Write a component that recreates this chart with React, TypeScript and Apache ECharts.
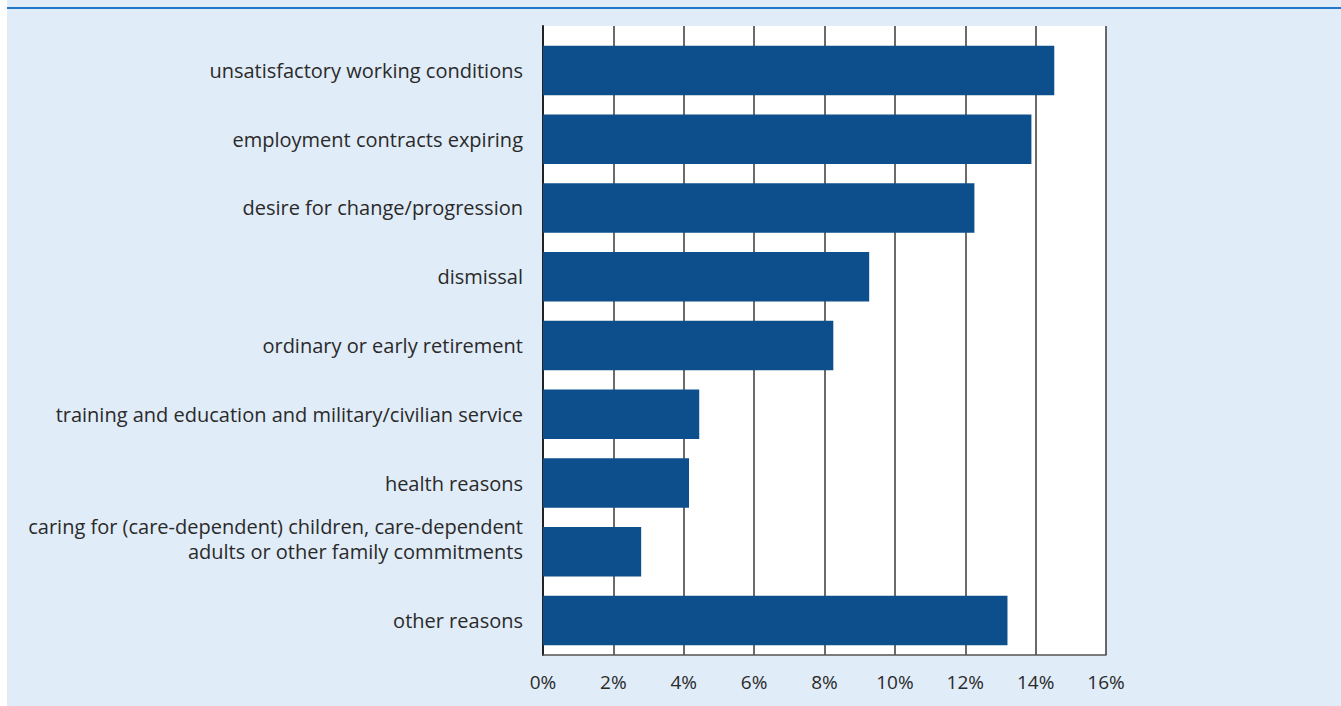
import React, { useEffect, useRef } from "react";
import * as echarts from "echarts";

const categories: string[] = [
  "unsatisfactory working conditions",
  "employment contracts expiring",
  "desire for change/progression",
  "dismissal",
  "ordinary or early retirement",
  "training and education and military/civilian service",
  "health reasons",
  "caring for (care-dependent) children, care-dependent\nadults or other family commitments\n ",
  "other reasons",
];

const values: number[] = [14.53, 13.88, 12.26, 9.27, 8.25, 4.44, 4.15, 2.79, 13.2];

const xTicks = { min: 0, max: 16, interval: 2 };

export default function App() {
  const ref = useRef<HTMLDivElement>(null);
  useEffect(() => {
    document.body.style.margin = "0";
    const chart = echarts.init(ref.current!, null, { renderer: "svg" });
    const font = "'Open Sans', sans-serif";
    chart.setOption({
      animation: false,
      backgroundColor: "#e0ecf8",
      graphic: [
        { type: "rect", left: 0, top: 0, shape: { width: 7, height: 706 }, style: { fill: "#ffffff" }, silent: true },
        { type: "rect", left: 7, top: 7, shape: { width: 1334, height: 2 }, style: { fill: "#1f78c8" }, silent: true },
      ],
      grid: [
        {
          left: 543,
          right: 235,
          top: 26,
          bottom: 51,
          show: true,
          backgroundColor: "#ffffff",
          borderWidth: 0,
        },
        {
          left: 543,
          right: 235,
          top: 36,
          bottom: 51,
          show: false,
        },
      ],
      xAxis: [
        {
          gridIndex: 0,
          type: "value",
          min: xTicks.min,
          max: xTicks.max,
          interval: xTicks.interval,
          axisLine: { show: true, lineStyle: { color: "#555", width: 1.5 } },
          axisTick: { show: false },
          splitLine: { show: true, lineStyle: { color: "#3a3a3a", width: 1.5 } },
          axisLabel: {
            formatter: (v: number) => `${v}%`,
            color: "#2a2a2a",
            fontSize: 19,
            fontFamily: font,
            margin: 17,
          },
        },
        {
          gridIndex: 1,
          type: "value",
          min: xTicks.min,
          max: xTicks.max,
          interval: xTicks.interval,
          show: false,
          splitLine: { show: false },
        },
      ],
      yAxis: [
        {
          gridIndex: 0,
          type: "value",
          show: true,
          axisLine: { show: true, lineStyle: { color: "#222", width: 2 } },
          axisTick: { show: false },
          axisLabel: { show: false },
          splitLine: { show: false },
        },
        {
          gridIndex: 1,
          type: "category",
          data: categories,
          inverse: true,
          axisLine: { show: false },
          axisTick: { show: false },
          splitLine: { show: false },
          axisLabel: {
            color: "#2a2a2a",
            fontSize: 20,
            fontFamily: font,
            margin: 20,
            lineHeight: 25,
            align: "right",
          },
        },
      ],
      series: [
        {
          type: "bar",
          xAxisIndex: 1,
          yAxisIndex: 1,
          data: values,
          barWidth: "72%",
          itemStyle: { color: "#0c4f8c" },
        },
      ],
    });
    return () => chart.dispose();
  }, []);
  return <div ref={ref} style={{ width: 1341, height: 706 }} />;
}
